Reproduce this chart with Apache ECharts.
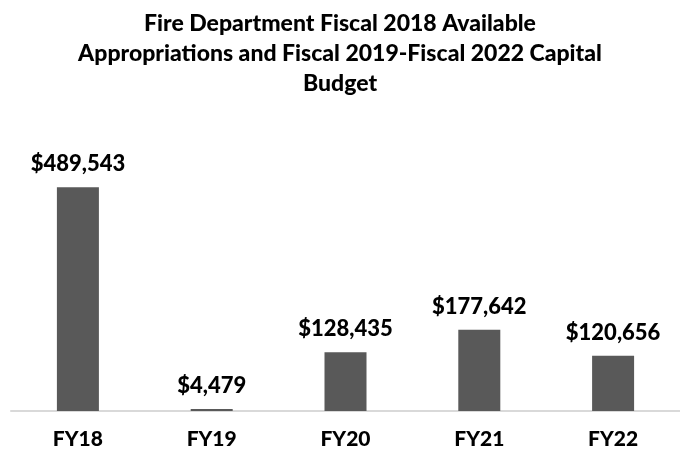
<!DOCTYPE html>
<html>
<head>
<meta charset="utf-8">
<script src="https://cdn.jsdelivr.net/npm/echarts@6/dist/echarts.min.js"></script>
<style>
  html, body { margin: 0; padding: 0; background: #fff; }
  #main { width: 680px; height: 454px; }
</style>
</head>
<body>
<div id="main"></div>
<script>
var categories = ["FY18", "FY19", "FY20", "FY21", "FY22"];
var budget = [489543, 4479, 128435, 177642, 120656];

var myChart = echarts.init(document.getElementById("main"));
var font = "Lato, 'Open Sans', sans-serif";

var option = {
  animation: false,
  title: {
    text: "Fire Department Fiscal 2018 Available\nAppropriations and Fiscal 2019-Fiscal 2022 Capital\nBudget",
    left: "center",
    top: 4,
    textStyle: {
      fontFamily: font,
      fontWeight: 900,
      fontSize: 23,
      lineHeight: 30,
      color: "#000"
    }
  },
  grid: {
    left: 11,
    top: 182.5,
    width: 677,
    height: 228.5
  },
  xAxis: {
    type: "category",
    data: categories,
    axisTick: { show: false },
    axisLine: { lineStyle: { color: "#d9d9d9", width: 2 } },
    axisLabel: {
      margin: 18,
      fontFamily: font,
      fontWeight: 900,
      fontSize: 21,
      color: "#000"
    }
  },
  yAxis: {
    type: "value",
    min: 0,
    max: 500000,
    show: false,
    splitLine: { show: false }
  },
  series: [
    {
      type: "bar",
      data: budget,
      barWidth: 42,
      itemStyle: { color: "#595959" },
      label: {
        show: true,
        position: "top",
        distance: 12,
        fontFamily: font,
        fontWeight: 900,
        fontSize: 22,
        color: "#000",
        formatter: function (p) {
          return "$" + p.value.toLocaleString("en-US");
        }
      }
    }
  ]
};

myChart.setOption(option);
</script>
</body>
</html>
